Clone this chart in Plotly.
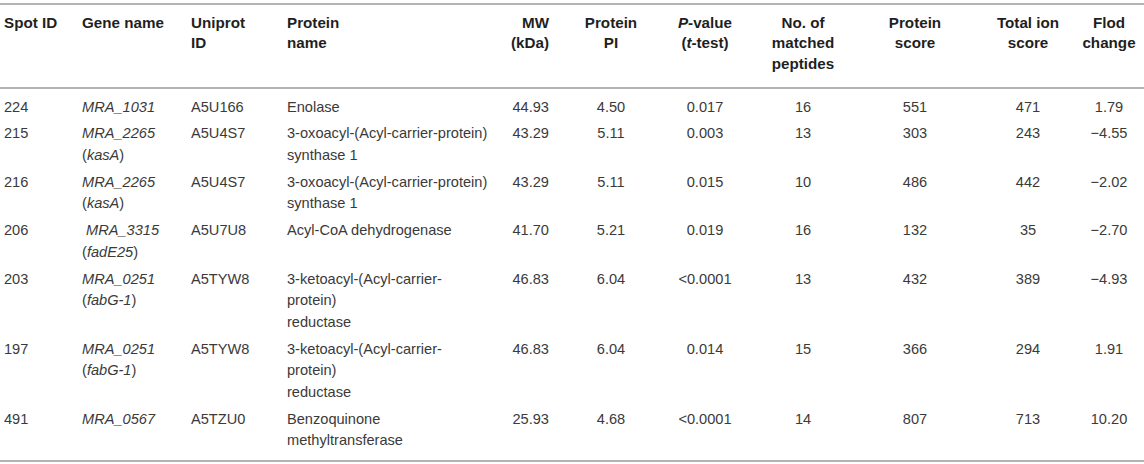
import plotly.graph_objects as go

# ---------------- data ----------------
header_labels = [
    ["Spot ID"], ["Gene name"], ["Uniprot", "ID"], ["Protein", "name"],
    ["MW", "(kDa)"], ["Protein", "PI"], ["<i>P</i>-value", "(<i>t</i>-test)"],
    ["No. of", "matched", "peptides"], ["Protein", "score"],
    ["Total ion", "score"], ["Flod", "change"],
]
spot_ids = ["224", "215", "216", "206", "203", "197", "491"]
gene_loci = ["MRA_1031", "MRA_2265", "MRA_2265", "\u00a0MRA_3315", "MRA_0251", "MRA_0251", "MRA_0567"]
gene_symbols = [None, "kasA", "kasA", "fadE25", "fabG-1", "fabG-1", None]
uniprot_ids = ["A5U166", "A5U4S7", "A5U4S7", "A5U7U8", "A5TYW8", "A5TYW8", "A5TZU0"]
protein_names = [
    ["Enolase"],
    ["3-oxoacyl-(Acyl-carrier-protein)", "synthase 1"],
    ["3-oxoacyl-(Acyl-carrier-protein)", "synthase 1"],
    ["Acyl-CoA dehydrogenase"],
    ["3-ketoacyl-(Acyl-carrier-", "protein)", "reductase"],
    ["3-ketoacyl-(Acyl-carrier-", "protein)", "reductase"],
    ["Benzoquinone", "methyltransferase"],
]
mw_kda = [44.93, 43.29, 43.29, 41.70, 46.83, 46.83, 25.93]
protein_pi = [4.50, 5.11, 5.11, 5.21, 6.04, 6.04, 4.68]
p_values = ["0.017", "0.003", "0.015", "0.019", "&lt;0.0001", "0.014", "&lt;0.0001"]
matched_peptides = [16, 13, 10, 16, 13, 15, 14]
protein_scores = [551, 303, 486, 132, 432, 366, 807]
total_ion_scores = [471, 243, 442, 35, 389, 294, 713]
fold_changes = [1.79, -4.55, -2.02, -2.70, -4.93, 1.91, 10.20]

# ---------------- layout constants ----------------
W, H = 1144, 464
FONT = "Liberation Sans, Arial, Helvetica, sans-serif"
BODY_COLOR = "#3a3a3a"
HEAD_COLOR = "#1f1f1f"
RULE_COLOR = "#b4b4b4"
FS_BODY = 14.6
FS_HEAD = 15.2

# column anchor x (pixels) and alignment
col_x = [4, 82, 191, 287, 549, 611, 705, 803, 915, 1028, 1109]
col_align = ["left", "left", "left", "left", "right", "center", "center",
             "center", "center", "center", "center"]
pos_map = {"left": "middle right", "right": "middle left", "center": "middle center"}

HEAD_Y0, HEAD_DY = 24, 20.5
BODY_Y0, BODY_DY, ROW_PAD = 108, 21.7, 5.0
RULES = [4, 88, 461]


def fmt_fc(v):
    s = f"{abs(v):.2f}"
    return ("\u2212" + s) if v < 0 else s


# build cell lines per column
body_cols = [
    [[s] for s in spot_ids],
    [[f"<i>{loc}</i>"] + ([f"(<i>{sym}</i>)"] if sym else []) for loc, sym in zip(gene_loci, gene_symbols)],
    [[u] for u in uniprot_ids],
    protein_names,
    [[f"{v:.2f}"] for v in mw_kda],
    [[f"{v:.2f}"] for v in protein_pi],
    [[p] for p in p_values],
    [[str(v)] for v in matched_peptides],
    [[str(v)] for v in protein_scores],
    [[str(v)] for v in total_ion_scores],
    [[fmt_fc(v)] for v in fold_changes],
]

n_rows = len(spot_ids)
row_y = []
y = BODY_Y0
for r in range(n_rows):
    row_y.append(y)
    n_lines = max(len(col[r]) for col in body_cols)
    y += n_lines * BODY_DY + ROW_PAD

fig = go.Figure()

for c in range(len(col_x)):
    xs, ys, ts = [], [], []
    for k, line in enumerate(header_labels[c]):
        xs.append(col_x[c]); ys.append(HEAD_Y0 + k * HEAD_DY); ts.append(f"<b>{line}</b>")
    fig.add_trace(go.Scatter(
        x=xs, y=ys, text=ts, mode="text", textposition=pos_map[col_align[c]],
        textfont=dict(family=FONT, size=FS_HEAD, color=HEAD_COLOR),
        hoverinfo="skip", showlegend=False,
    ))
    xs, ys, ts = [], [], []
    for r in range(n_rows):
        for k, line in enumerate(body_cols[c][r]):
            xs.append(col_x[c]); ys.append(row_y[r] + k * BODY_DY); ts.append(line)
    fig.add_trace(go.Scatter(
        x=xs, y=ys, text=ts, mode="text", textposition=pos_map[col_align[c]],
        textfont=dict(family=FONT, size=FS_BODY, color=BODY_COLOR),
        hoverinfo="skip", showlegend=False,
    ))

for ry in RULES:
    fig.add_shape(type="line", x0=0, x1=W, y0=ry, y1=ry, xref="x", yref="y",
                  line=dict(color=RULE_COLOR, width=2))

fig.update_layout(
    width=W, height=H, margin=dict(l=0, r=0, t=0, b=0),
    paper_bgcolor="white", plot_bgcolor="white",
    xaxis=dict(range=[0, W], visible=False, fixedrange=True),
    yaxis=dict(range=[H, 0], visible=False, fixedrange=True),
)

fig.write_html(
    "out.html",
    config={"displayModeBar": False},
    post_script="document.body.style.margin='0';document.body.style.overflow='hidden';",
)
